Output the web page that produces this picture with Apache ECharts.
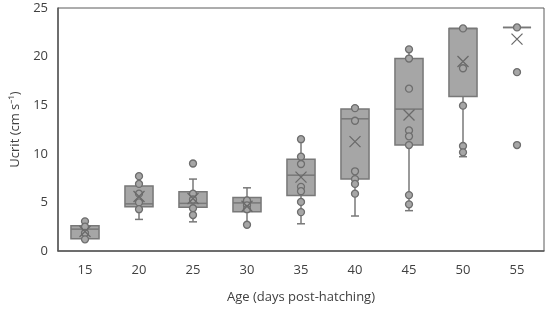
<!DOCTYPE html>
<html>
<head>
<meta charset="utf-8">
<script src="https://cdn.jsdelivr.net/npm/echarts@6/dist/echarts.min.js"></script>
<style>
  html, body { margin: 0; padding: 0; background: #fff; }
  #chart { width: 550px; height: 313px; }
</style>
</head>
<body>
<div id="chart"></div>
<script>
// ages (x categories)
const ages = ['15', '20', '25', '30', '35', '40', '45', '50', '55'];
// box stats per age: [min, Q1, median, Q3, max]
const boxStats = [
  [1.2, 1.25, 2.25, 2.6, 3.05],
  [3.25, 4.55, 4.85, 6.7, 7.7],
  [3.0, 4.5, 4.9, 6.1, 7.4],
  [2.7, 4.05, 4.95, 5.5, 6.5],
  [2.8, 5.7, 7.8, 9.45, 11.5],
  [3.6, 7.4, 13.6, 14.6, 14.8],
  [4.15, 10.9, 14.6, 19.8, 20.75],
  [9.7, 15.9, 22.9, 22.9, 22.9],
  [23, 23, 23, 23, 23]
];
// means (X markers)
const means = [2.0, 5.6, 5.4, 4.6, 7.6, 11.25, 14.0, 19.5, 21.8];
// individual points per age
const points = [
  [3.05, 2.5, 1.85, 1.2],
  [7.7, 6.9, 5.9, 5.0, 4.3],
  [9.0, 5.9, 5.3, 4.4, 3.7],
  [5.2, 4.7, 4.3, 2.7],
  [11.5, 9.7, 8.95, 6.6, 6.15, 5.05, 4.0],
  [14.7, 13.4, 8.2, 7.4, 6.9, 5.9],
  [20.75, 19.8, 16.7, 12.4, 11.8, 10.9, 5.75, 4.8],
  [22.9, 18.8, 14.95, 10.8, 10.15],
  [23, 18.4, 10.9]
];
const yTicks = { min: 0, max: 25, interval: 5 };

const boxData = boxStats.map((s, i) => [i].concat(s));
const meanData = means.map((m, i) => [i, m]);
const pointData = [];
points.forEach((arr, i) => arr.forEach(v => pointData.push([i, v])));

const lineCol = '#787878';
const fillCol = '#a6a6a6';

function renderBox(params, api) {
  const i = api.value(0);
  const pMin = api.coord([i, api.value(1)]);
  const pQ1 = api.coord([i, api.value(2)]);
  const pMed = api.coord([i, api.value(3)]);
  const pQ3 = api.coord([i, api.value(4)]);
  const pMax = api.coord([i, api.value(5)]);
  const bw = api.size([1, 0])[0] * 0.52;
  const cw = 8;
  const x = pQ1[0];
  const st = { stroke: lineCol, lineWidth: 1.5, fill: null };
  const kids = [
    { type: 'line', shape: { x1: x, y1: pMax[1], x2: x, y2: pQ3[1] }, style: st },
    { type: 'line', shape: { x1: x, y1: pQ1[1], x2: x, y2: pMin[1] }, style: st },
    { type: 'line', shape: { x1: x - cw / 2, y1: pMax[1], x2: x + cw / 2, y2: pMax[1] }, style: st },
    { type: 'line', shape: { x1: x - cw / 2, y1: pMin[1], x2: x + cw / 2, y2: pMin[1] }, style: st },
    { type: 'rect', shape: { x: x - bw / 2, y: pQ3[1], width: bw, height: pQ1[1] - pQ3[1] },
      style: { fill: fillCol, stroke: lineCol, lineWidth: 1.5 } },
    { type: 'line', shape: { x1: x - bw / 2, y1: pMed[1], x2: x + bw / 2, y2: pMed[1] }, style: st }
  ];
  return { type: 'group', children: kids };
}

const chart = echarts.init(document.getElementById('chart'));
chart.setOption({
  animation: false,
  textStyle: { fontFamily: 'Open Sans' },
  grid: { left: 58, right: 6, top: 8, bottom: 62, show: true, borderColor: '#5a5a5a', borderWidth: 1 },
  xAxis: {
    type: 'category',
    data: ages,
    boundaryGap: true,
    name: 'Age (days post-hatching)',
    nameLocation: 'middle',
    nameGap: 40,
    nameTextStyle: { fontSize: 13, color: '#404040' },
    axisLine: { lineStyle: { color: '#5a5a5a', width: 1.5 } },
    axisTick: { show: false },
    axisLabel: { fontSize: 13, color: '#404040', margin: 13 }
  },
  yAxis: {
    type: 'value',
    min: yTicks.min,
    max: yTicks.max,
    interval: yTicks.interval,
    name: 'Ucrit (cm s\u207B\u00B9)',
    nameLocation: 'middle',
    nameGap: 33,
    nameTextStyle: { fontSize: 13, color: '#404040' },
    axisLine: { show: true, lineStyle: { color: '#5a5a5a', width: 1.5 } },
    axisTick: { show: false },
    splitLine: { show: false },
    axisLabel: { fontSize: 13, color: '#404040', margin: 10 }
  },
  series: [
    {
      type: 'custom',
      renderItem: renderBox,
      encode: { x: 0, y: [1, 2, 3, 4, 5] },
      data: boxData,
      z: 2
    },
    {
      type: 'scatter',
      data: pointData,
      symbol: 'circle',
      symbolSize: 7,
      itemStyle: { color: fillCol, borderColor: '#6e6e6e', borderWidth: 1.3, opacity: 1 },
      z: 3
    },
    {
      type: 'scatter',
      data: meanData,
      symbol: 'path://M0,0L10,10M10,0L0,10',
      symbolSize: 11,
      itemStyle: { color: 'transparent', borderColor: '#6a6a6a', borderWidth: 1.3, opacity: 1 },
      z: 4
    }
  ]
});
</script>
</body>
</html>
